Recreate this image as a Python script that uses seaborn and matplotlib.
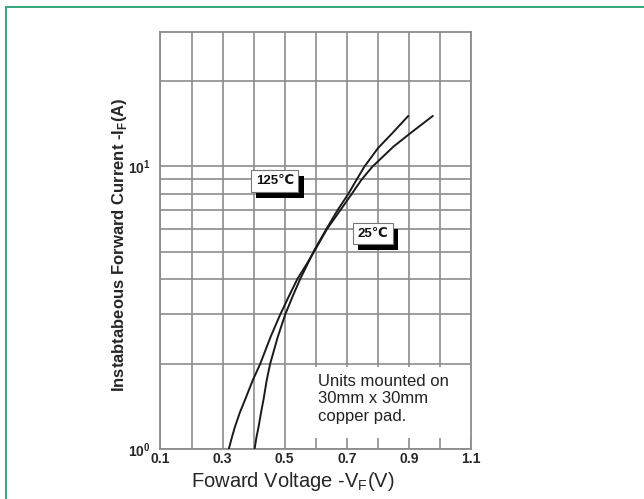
"""
Forward characteristics of the diode: instantaneous forward current vs forward voltage.
"""

import matplotlib
matplotlib.use('Agg')
import matplotlib.pyplot as plt
import matplotlib.patheffects as pe
from matplotlib.patches import Rectangle
from matplotlib.ticker import FixedLocator, FixedFormatter, NullFormatter
import pandas as pd
import seaborn as sns

# values
volt_125 = [0.320, 0.330, 0.340, 0.356, 0.373, 0.397, 0.421, 0.455, 0.486, 0.515, 0.541, 0.570,
            0.598, 0.636, 0.679, 0.716, 0.748, 0.783, 0.850, 0.904, 0.977]
curr_125 = [1.0, 1.1, 1.2, 1.35, 1.5, 1.75, 2.0, 2.5, 3.0, 3.5, 4.0, 4.5,
            5.07, 6.0, 7.0, 8.0, 9.0, 10.0, 11.75, 13.1, 15.1]
volt_25 = [0.403, 0.409, 0.416, 0.424, 0.432, 0.442, 0.453, 0.478, 0.502, 0.527, 0.550, 0.573,
           0.596, 0.634, 0.670, 0.705, 0.732, 0.757, 0.800, 0.846, 0.898]
curr_25 = [1.0, 1.1, 1.2, 1.35, 1.5, 1.75, 2.0, 2.5, 3.0, 3.5, 4.0, 4.5,
           5.07, 6.0, 7.0, 8.0, 9.0, 10.0, 11.6, 13.1, 15.1]

x_major = [0.1, 0.3, 0.5, 0.7, 0.9, 1.1]
x_minor = [0.2, 0.4, 0.6, 0.8, 1.0]
x_labels = ['0.1', '0.3', '0.5', '0.7', '0.9', '1.1']
y_major = [1, 10]
y_minor = [2, 3, 4, 5, 6, 7, 8, 9, 20]
y_labels = [r'$\mathbf{10^{0}}$', r'$\mathbf{10^{1}}$']

label_125 = '125℃'
label_25 = '25℃'
note = 'Units mounted on\n30mm x 30mm\ncopper pad.'

sns.set_theme(style='white')
plt.rcParams['font.family'] = ['Liberation Sans', 'DejaVu Sans']
plt.rcParams['mathtext.fontset'] = 'custom'
plt.rcParams['mathtext.rm'] = 'Liberation Sans'
plt.rcParams['mathtext.bf'] = 'Liberation Sans:bold'

df = pd.concat([
    pd.DataFrame({'V': volt_125, 'I': curr_125, 'T': label_125}),
    pd.DataFrame({'V': volt_25, 'I': curr_25, 'T': label_25}),
])

fig = plt.figure(figsize=(6.44, 4.99), dpi=100)
ax = fig.add_axes([0.2492, 0.1002, 0.4822, 0.8363])

sns.lineplot(data=df, x='V', y='I', hue='T', palette=['#1a1a1a', '#1a1a1a'],
             estimator=None, sort=False, legend=False, lw=1.4, ax=ax, zorder=3)

ax.set_yscale('log')
ax.set_xlim(0.1, 1.1)
ax.set_ylim(1, 30)

grid_c = '#8c8c8c'
ax.xaxis.set_major_locator(FixedLocator(x_major))
ax.xaxis.set_minor_locator(FixedLocator(x_minor))
ax.xaxis.set_major_formatter(FixedFormatter(x_labels))
ax.yaxis.set_major_locator(FixedLocator(y_major))
ax.yaxis.set_minor_locator(FixedLocator(y_minor))
ax.yaxis.set_major_formatter(FixedFormatter(y_labels))
ax.yaxis.set_minor_formatter(NullFormatter())
ax.grid(True, which='both', color=grid_c, lw=1.2)
ax.set_axisbelow(True)
ax.tick_params(which='both', length=0)
ax.tick_params(axis='x', pad=2.5, labelsize=10)
ax.tick_params(axis='y', pad=7, labelsize=10)
for lab in ax.get_xticklabels():
    lab.set_fontweight('bold')
for sp in ax.spines.values():
    sp.set_color(grid_c)
    sp.set_linewidth(1.3)

ax.set_xlabel(r'Foward Voltage -V$_\mathrm{F}$(V)', fontsize=14.5)
ax.xaxis.set_label_coords(0.425, -0.05)
ax.set_ylabel(r'Instabtabeous Forward Current -I$_\mathbf{F}$(A)', fontsize=12, fontweight='bold')
ax.yaxis.set_label_coords(-0.1, 0.489)

# white panel behind the mounting note
ax.add_patch(Rectangle((0.491, 0.026), 0.509, 0.171, transform=ax.transAxes,
                       fc='white', ec='none', zorder=2))
ax.text(0.508, 0.18, note, transform=ax.transAxes, ha='left', va='top',
        fontsize=12, color='#222222', zorder=4)

# temperature tags with a solid drop shadow
for txt, xv, yv in [(label_125, 0.468, 8.89), (label_25, 0.784, 5.78)]:
    t = ax.text(xv, yv, txt, ha='center', va='center', fontsize=9.5, fontweight='bold',
                color='#111111', zorder=5,
                bbox=dict(boxstyle='square,pad=0.35', fc='white', ec='#777777', lw=0.8))
    t.get_bbox_patch().set_path_effects([
        pe.SimplePatchShadow(offset=(3.8, -4.3), shadow_rgbFace='black', alpha=1.0),
        pe.Normal(),
    ])

# green frame of the page
top = 1 - 6.5 / 499
fig.add_artist(Rectangle((6 / 644, -0.1), 1.2, top + 0.1,
                         transform=fig.transFigure, fill=False, ec='#3aa57a', lw=1.4))

fig.savefig('out.png', dpi=100)
